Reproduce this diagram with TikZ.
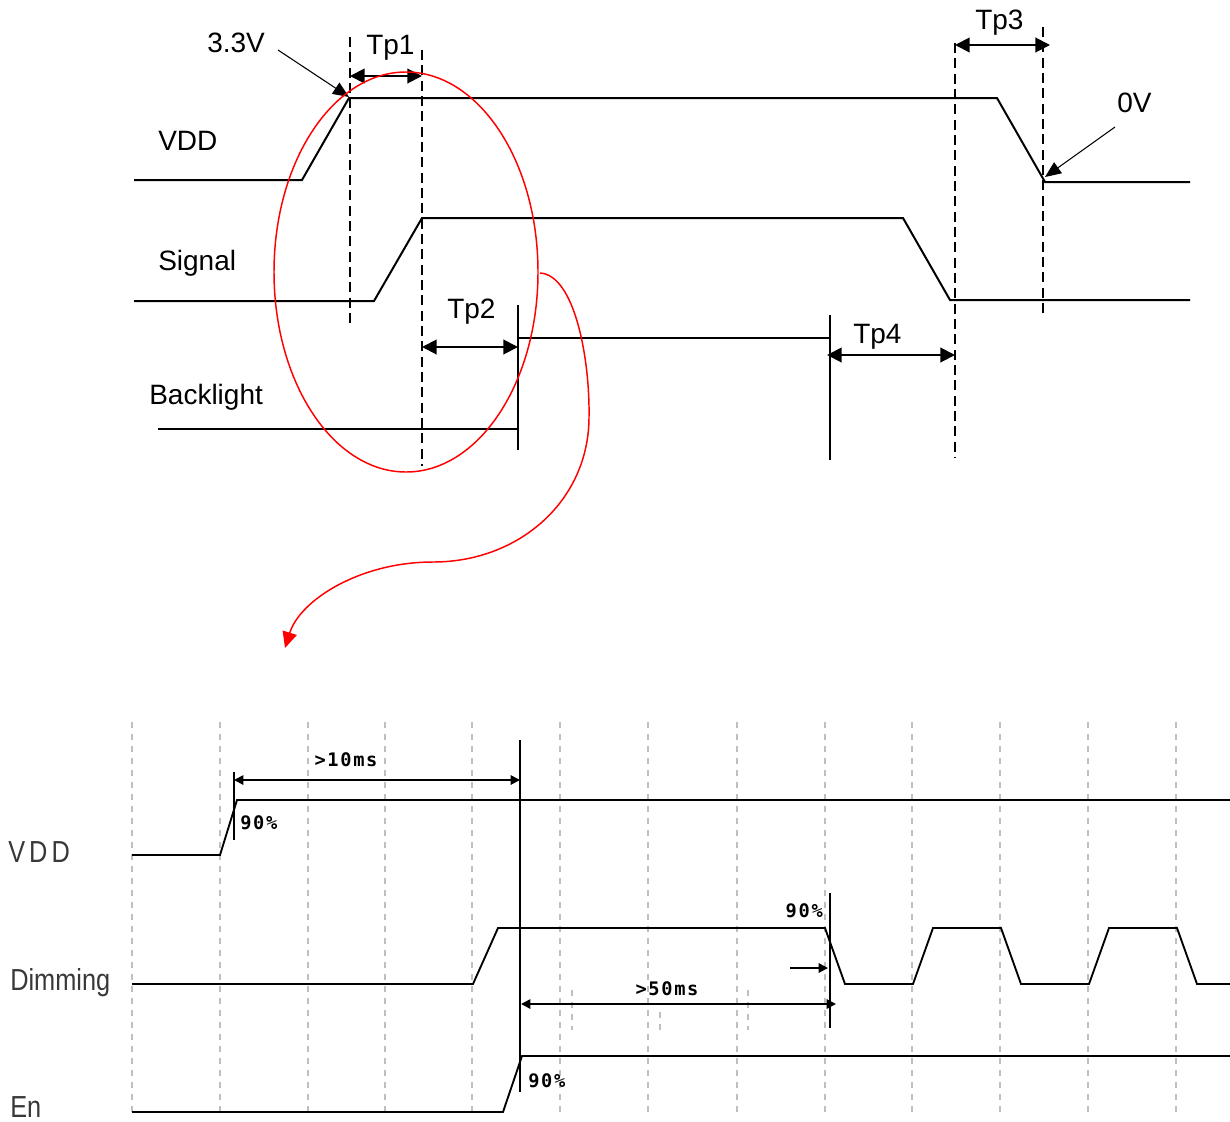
\documentclass[tikz,border=0pt]{standalone}
\usepackage{fontspec}
\setmainfont{Liberation Sans}
\newfontfamily\pixfont{DejaVu Sans Mono}
\usetikzlibrary{arrows.meta}
\begin{document}
\begin{tikzpicture}[x=0.75pt,y=-0.75pt,
  sig/.style={line width=1.5pt, line join=miter},
  lsig/.style={line width=1.4pt, line join=miter},
  guide/.style={line width=1.4pt, dash pattern=on 7.5pt off 4pt},
  gridline/.style={line width=1.2pt, black!25, dash pattern=on 4.5pt off 4.5pt},
  dimarr/.style={line width=1.5pt, {Triangle[length=11pt,width=11pt]}-{Triangle[length=11pt,width=11pt]}},
  callout/.style={line width=0.8pt, -{Triangle[length=12pt,width=10pt]}},
  smallarr/.style={line width=1.4pt, {Triangle[length=7pt,width=7pt]}-{Triangle[length=7pt,width=7pt]}},
  smallone/.style={line width=1.4pt, -{Triangle[length=7pt,width=7pt]}},
  toplbl/.style={anchor=base west, inner sep=0pt, font=\fontsize{21}{25}\selectfont},
  botlbl/.style={anchor=base west, inner sep=0pt, text=black!78, font=\fontsize{19}{23}\selectfont},
  pixlbl/.style={inner sep=0pt, font=\pixfont\bfseries\fontsize{14}{16}\selectfont\addfontfeature{LetterSpace=9}},
  redcurve/.style={red, line width=1.1pt, -{Triangle[length=12pt,width=11pt]}}
]
\useasboundingbox (0,0) rectangle (1230,1121);

% ---------------- top diagram ----------------
% dashed guides
\draw[guide] (350,37) -- (350,326);
\draw[guide] (422,50) -- (422,466);
\draw[guide] (955,43) -- (955,458);
\draw[guide] (1043,27) -- (1043,315);

% waveforms
\draw[sig] (134,180) -- (302,180) -- (349,98) -- (997,98) -- (1045,182) -- (1190,182);
\draw[sig] (134,301) -- (374,301) -- (422,218) -- (903,218) -- (950,300) -- (1190,300);
\draw[sig] (158,429) -- (518,429);
\draw[sig] (518,305) -- (518,450);
\draw[sig] (518,338) -- (830,338);
\draw[sig] (830,315) -- (830,460);

% labels
\node[toplbl] (lvdd) at (158,150) {VDD};
\node[toplbl] (lsig) at (158,270) {Signal};
\node[toplbl] (lbl) at (149,404) {Backlight};
\node[toplbl] (l33) at (207,52) {3.3V};
\node[toplbl] (l0v) at (1117,112) {0V};
\node[toplbl] (ltp1) at (366,54) {Tp1};
\node[toplbl] (ltp2) at (447,318) {Tp2};
\node[toplbl] (ltp3) at (975,29) {Tp3};
\node[toplbl] (ltp4) at (853,343) {Tp4};

% dimension arrows
\coordinate (t1a) at (350,76);  \coordinate (t1b) at (422,76);
\coordinate (t2a) at (422,347); \coordinate (t2b) at (518,347);
\coordinate (t3a) at (955,45);  \coordinate (t3b) at (1050,45);
\coordinate (t4a) at (827,355); \coordinate (t4b) at (955,355);
\draw[dimarr] (t1a) -- (t1b);
\draw[dimarr] (t2a) -- (t2b);
\draw[dimarr] (t3a) -- (t3b);
\draw[dimarr] (t4a) -- (t4b);

% callouts
\coordinate (c33s) at (278,50);  \coordinate (c33e) at (349,97);
\coordinate (c0vs) at (1115,127); \coordinate (c0ve) at (1045,177);
\draw[callout] (c33s) -- (c33e);
\draw[callout] (c0vs) -- (c0ve);

% red ellipse and curved arrow
\draw[red, line width=1.1pt] (406,272) ellipse [x radius=132, y radius=200];
\coordinate (rs) at (540,273);
\coordinate (rm1) at (589,417);
\coordinate (rm2) at (433,562);
\coordinate (re) at (285,648);
\draw[redcurve] (rs) .. controls (575,275) and (590,360) .. (rm1)
  .. controls (589,500) and (520,562) .. (rm2)
  .. controls (360,562) and (300,600) .. (re);

% ---------------- bottom diagram ----------------
\foreach \gx in {132,220,308,385,472,560,648,737,825,912,1000,1088,1176}
  \draw[gridline] (\gx,722) -- (\gx,1115);
\draw[gridline] (572,990) -- (572,1030);
\draw[gridline] (660,1012) -- (660,1030);
\draw[gridline] (748,990) -- (748,1030);

% waveforms
\draw[lsig] (132,855) -- (220,855) -- (237,800) -- (1230,800);
\draw[lsig] (132,984) -- (473,984) -- (498,928) -- (825,928) -- (845,984) -- (913,984)
  -- (933,928) -- (1001,928) -- (1021,984) -- (1089,984) -- (1109,928) -- (1177,928)
  -- (1197,984) -- (1230,984);
\draw[lsig] (132,1112) -- (503,1112) -- (522,1056) -- (1230,1056);

% markers
\draw[lsig] (234,772) -- (234,840);
\draw[lsig] (520,740) -- (520,1092);
\draw[lsig] (830,893) -- (830,1028);

% timing arrows
\coordinate (a10s) at (234,780); \coordinate (a10e) at (520,780);
\coordinate (a50s) at (521,1004); \coordinate (a50e) at (836,1004);
\coordinate (aps) at (790,968);  \coordinate (ape) at (828,968);
\draw[smallarr] (a10s) -- (a10e);
\draw[smallarr] (a50s) -- (a50e);
\draw[smallone] (aps) -- (ape);

% labels
\node[botlbl] (bvdd) at (8,862) {\addfontfeature{LetterSpace=16}\scalebox{1}[1.2]{VDD}};
\node[botlbl] (bdim) at (10,990) {\scalebox{1}[1.2]{Dimming}};
\node[botlbl] (ben) at (10,1117) {\scalebox{1}[1.2]{En}};
\node[pixlbl] (p10) at (346,760) {>10ms};
\node[pixlbl] (p50) at (667,989) {>50ms};
\node[pixlbl, anchor=west] (p90a) at (240,823) {90\%};
\node[pixlbl, anchor=east] (p90b) at (823,911) {90\%};
\node[pixlbl, anchor=west] (p90c) at (528,1081) {90\%};
\end{tikzpicture}
\end{document}
